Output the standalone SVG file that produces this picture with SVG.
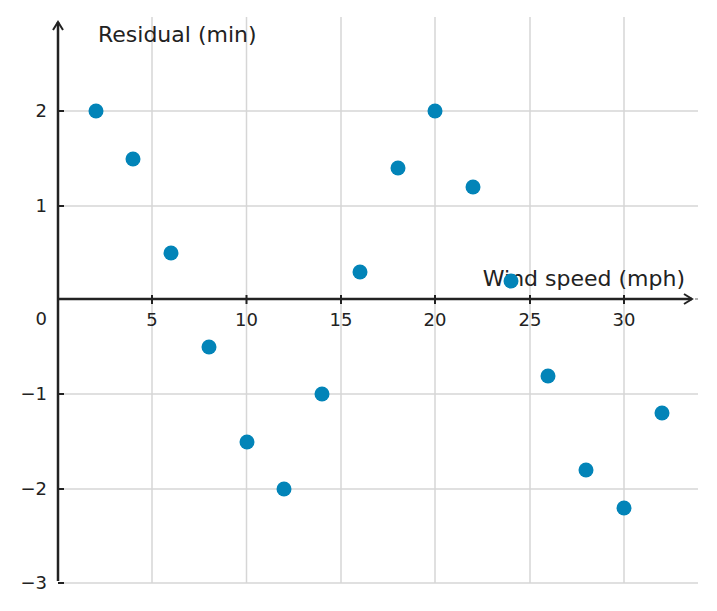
<svg xmlns="http://www.w3.org/2000/svg" width="717" height="611" viewBox="0 0 717 611">
<style>
text{font-family:"DejaVu Sans",sans-serif;font-size:18px;fill:#222}
.t{font-size:22px}
.g{stroke:#d6d6d6;stroke-width:1.5}
.ax{stroke:#222;stroke-width:2.5;fill:none}
.tk{stroke:#222;stroke-width:2}
.pt{fill:#0284b8}
.yl{text-anchor:end}
.xl{text-anchor:middle}
</style>
<defs><marker id="ar" viewBox="0 0 12 12" refX="10" refY="6" markerWidth="12" markerHeight="12" markerUnits="userSpaceOnUse" orient="auto"><path d="M2,1 L10,6 L2,11" fill="none" stroke="#222" stroke-width="2"/></marker></defs>
<g id="grid">
<path class="g" d="M152,17V583M246.5,17V583M341,17V583M435,17V583M530,17V583M624,17V583M58,111H698M58,206H698M58,394H698M58,489H698M58,583H698"/>
<line x1="58" y1="299" x2="698" y2="299" stroke="#999" stroke-width="1.5" stroke-dasharray="4,3"/>
</g>
<g id="connectors">
<line class="ax" x1="58" y1="581" x2="58" y2="22" marker-end="url(#ar)"/>
<line class="ax" x1="58" y1="299" x2="692" y2="299" marker-end="url(#ar)"/>
<path class="tk" d="M152,295V304M246.5,295V304M341,295V304M435,295V304M530,295V304M624,295V304M58,111H64M58,206H64M58,394H64M58,489H64M58,583H64"/>
</g>
<g id="labels">
<text class="t" x="98" y="42">Residual (min)</text>
<text class="t" x="685" y="286" text-anchor="end">Wind speed (mph)</text>
<text class="yl" x="47" y="117">2</text>
<text class="yl" x="47" y="212">1</text>
<text class="yl" x="47" y="325">0</text>
<text class="yl" x="47" y="400">−1</text>
<text class="yl" x="47" y="495">−2</text>
<text class="yl" x="47" y="589">−3</text>
<text class="xl" x="152" y="326">5</text>
<text class="xl" x="246.5" y="326">10</text>
<text class="xl" x="341" y="326">15</text>
<text class="xl" x="435" y="326">20</text>
<text class="xl" x="530" y="326">25</text>
<text class="xl" x="624" y="326">30</text>
</g>
<g id="points">
<circle class="pt" cx="96" cy="111" r="7.5"/>
<circle class="pt" cx="133" cy="159" r="7.5"/>
<circle class="pt" cx="171" cy="253" r="7.5"/>
<circle class="pt" cx="209" cy="347" r="7.5"/>
<circle class="pt" cx="247" cy="442" r="7.5"/>
<circle class="pt" cx="284" cy="489" r="7.5"/>
<circle class="pt" cx="322" cy="394" r="7.5"/>
<circle class="pt" cx="360" cy="272" r="7.5"/>
<circle class="pt" cx="398" cy="168" r="7.5"/>
<circle class="pt" cx="435" cy="111" r="7.5"/>
<circle class="pt" cx="473" cy="187" r="7.5"/>
<circle class="pt" cx="511" cy="281" r="7.5"/>
<circle class="pt" cx="548" cy="376" r="7.5"/>
<circle class="pt" cx="586" cy="470" r="7.5"/>
<circle class="pt" cx="624" cy="508" r="7.5"/>
<circle class="pt" cx="662" cy="413" r="7.5"/>
</g>
</svg>
